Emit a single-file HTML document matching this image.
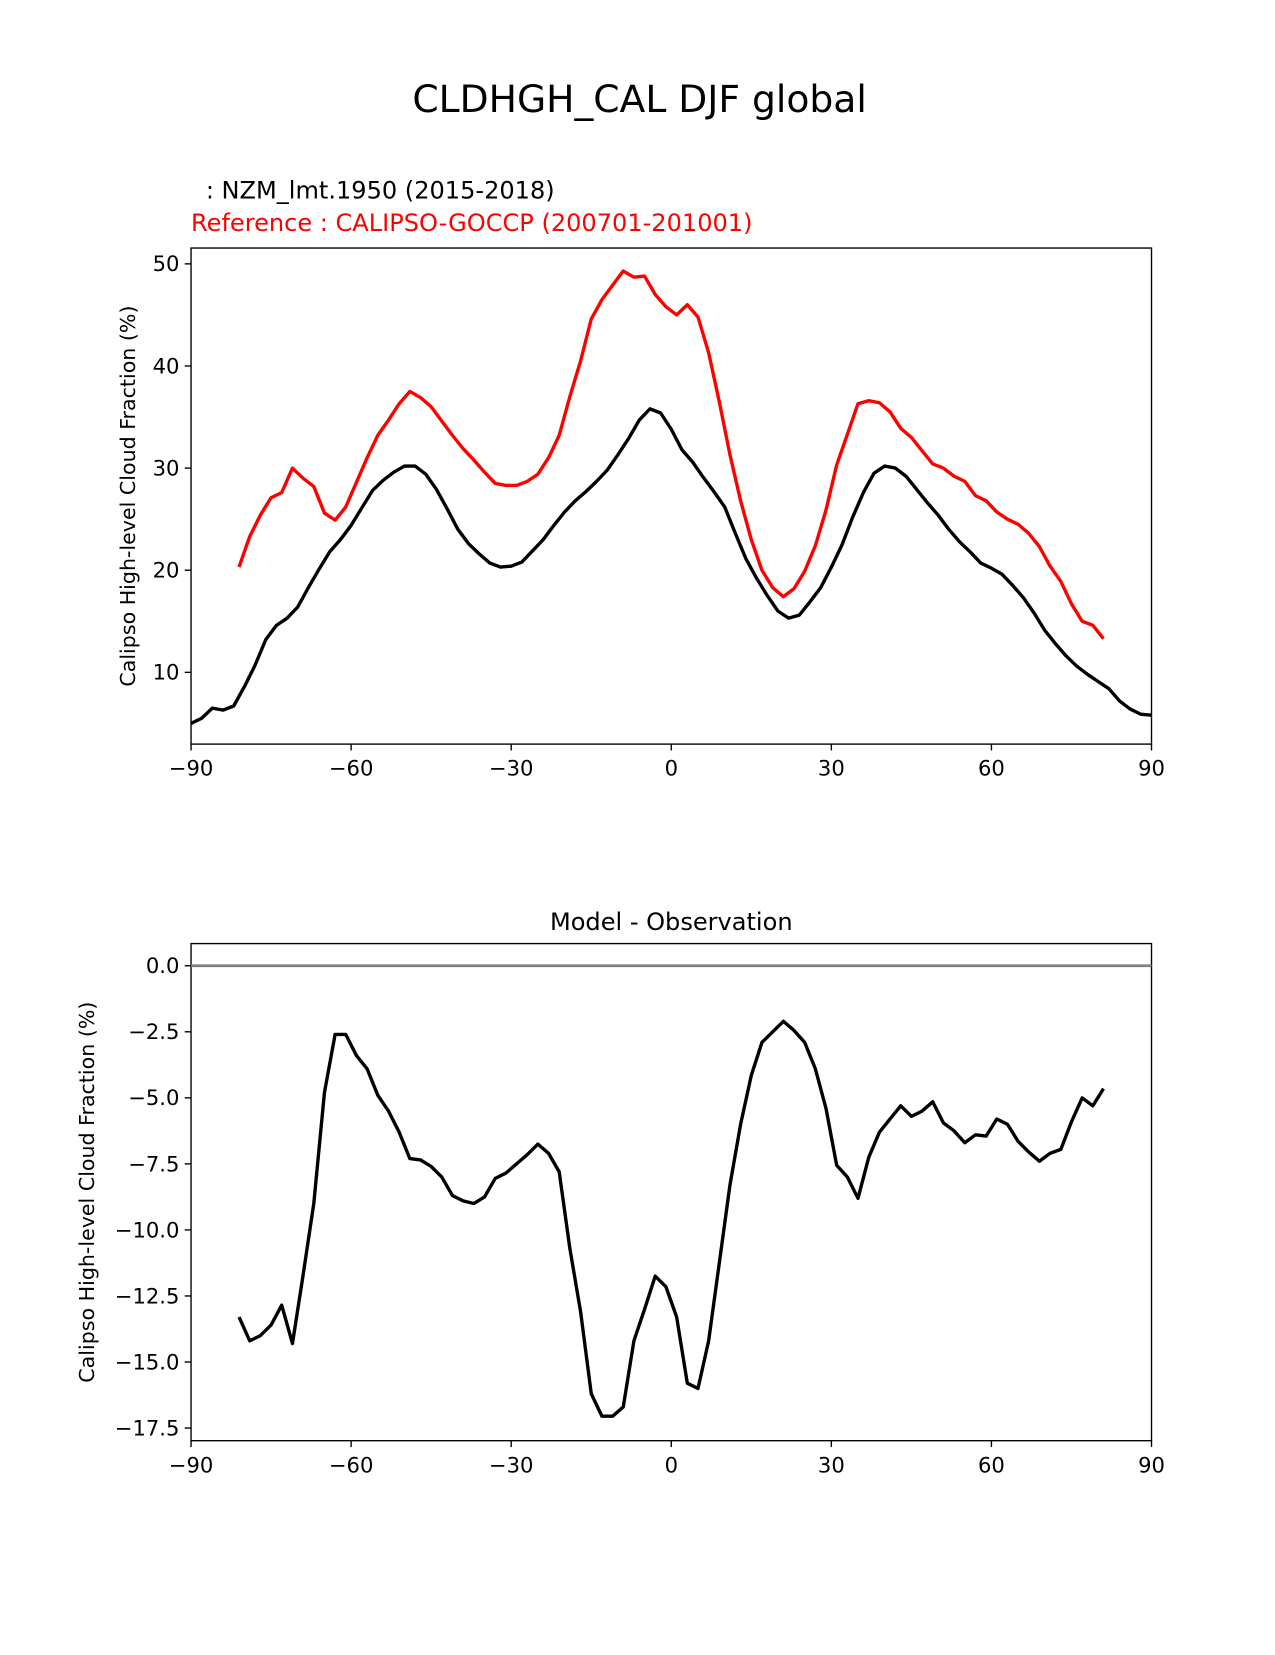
<!DOCTYPE html>
<html><head><meta charset="utf-8"><style>
body{margin:0;background:#fff;}
svg text{font-family:"DejaVu Sans","Liberation Sans",sans-serif;}
</style></head><body>
<svg id="fig" width="1275" height="1650" viewBox="0 0 1208 1563.3" preserveAspectRatio="none" xmlns="http://www.w3.org/2000/svg">
<rect width="1208" height="1564" fill="#fff"/>
<text x="606" y="106" font-size="35.7" text-anchor="middle">CLDHGH_CAL DJF global</text>
<text x="195" y="188" font-size="22.8">: NZM_lmt.1950 (2015-2018)</text>
<text x="181" y="219" font-size="22.8" fill="#ff0000">Reference : CALIPSO-GOCCP (200701-201001)</text>
<text x="636" y="881" font-size="22.8" text-anchor="middle">Model - Observation</text>
<g id="top"></g>
<g id="bot"></g>
</svg>
<script>
const refLat = [-81,-79,-77,-75,-73,-71,-69,-67,-65,-63,-61,-59,-57,-55,-53,-51,-49,-47,-45,-43,-41,-39,-37,-35,-33,-31,-29,-27,-25,-23,-21,-19,-17,-15,-13,-11,-9,-7,-5,-3,-1,1,3,5,7,9,11,13,15,17,19,21,23,25,27,29,31,33,35,37,39,41,43,45,47,49,51,53,55,57,59,61,63,65,67,69,71,73,75,77,79,81];
const refVals = [20.3,23.3,25.4,27.1,27.6,30.0,29.0,28.2,25.6,24.9,26.2,28.6,31.0,33.2,34.7,36.3,37.5,36.9,36.0,34.6,33.2,31.9,30.8,29.6,28.5,28.3,28.3,28.7,29.4,31.0,33.2,37.0,40.5,44.6,46.5,47.9,49.3,48.7,48.8,47.0,45.8,45.0,46.0,44.8,41.3,36.5,31.3,26.8,23.0,20.0,18.3,17.4,18.2,19.9,22.4,25.9,30.3,33.3,36.3,36.6,36.4,35.5,33.9,33.0,31.7,30.4,30.0,29.2,28.7,27.3,26.8,25.7,25.0,24.5,23.6,22.3,20.4,18.9,16.7,15.0,14.6,13.3];
const modelLat = [-90,-88,-86,-84,-82,-80,-78,-76,-74,-72,-70,-68,-66,-64,-62,-60,-58,-56,-54,-52,-50,-48,-46,-44,-42,-40,-38,-36,-34,-32,-30,-28,-26,-24,-22,-20,-18,-16,-14,-12,-10,-8,-6,-4,-2,0,2,4,6,8,10,12,14,16,18,20,22,24,26,28,30,32,34,36,38,40,42,44,46,48,50,52,54,56,58,60,62,64,66,68,70,72,74,76,78,80,82,84,86,88,90];
const modelVals = [5.0,5.5,6.5,6.3,6.7,8.6,10.7,13.2,14.6,15.3,16.4,18.3,20.1,21.8,23.0,24.4,26.1,27.8,28.8,29.6,30.2,30.2,29.4,27.9,26.0,24.0,22.6,21.6,20.7,20.3,20.4,20.8,21.9,23.0,24.4,25.7,26.8,27.7,28.7,29.8,31.3,32.9,34.7,35.8,35.4,33.8,31.8,30.6,29.1,27.7,26.2,23.6,21.1,19.2,17.5,16.0,15.3,15.6,16.9,18.3,20.3,22.5,25.2,27.6,29.5,30.2,30.0,29.2,27.9,26.6,25.4,24.0,22.8,21.8,20.7,20.2,19.6,18.5,17.3,15.8,14.1,12.8,11.6,10.6,9.8,9.1,8.4,7.2,6.4,5.9,5.8];
const diffVals = [-13.3,-14.2,-14.0,-13.6,-12.85,-14.3,-11.7,-9.0,-4.8,-2.6,-2.6,-3.4,-3.9,-4.9,-5.5,-6.3,-7.3,-7.35,-7.6,-8.0,-8.7,-8.9,-9.0,-8.75,-8.05,-7.85,-7.5,-7.15,-6.75,-7.1,-7.8,-10.7,-13.1,-16.2,-17.05,-17.05,-16.7,-14.2,-13.0,-11.75,-12.15,-13.3,-15.8,-16.0,-14.2,-11.25,-8.3,-6.0,-4.15,-2.9,-2.5,-2.1,-2.45,-2.9,-3.9,-5.4,-7.55,-8.0,-8.8,-7.25,-6.3,-5.8,-5.3,-5.7,-5.5,-5.15,-5.95,-6.25,-6.7,-6.4,-6.45,-5.8,-6.0,-6.65,-7.05,-7.4,-7.1,-6.95,-5.9,-5.0,-5.3,-4.65];
const xTicks = [-90,-60,-30,0,30,60,90];
const topYTicks = [10,20,30,40,50];
const botYTicks = [0,-2.5,-5,-7.5,-10,-12.5,-15,-17.5];

const NS="http://www.w3.org/2000/svg";
function mk(parent,tag,attrs){const e=document.createElementNS(NS,tag);for(const k in attrs)e.setAttribute(k,attrs[k]);parent.appendChild(e);return e;}
const L=181,R=1091;
const xs=v=>L+(v+90)/180*(R-L);
const fmtMinus=s=>String(s).replace('-','\u2212');

function axes(g,top,bot,ys,yt,yfmt,ylabel,ylx){
  mk(g,'rect',{x:L,y:top,width:R-L,height:bot-top,fill:'none',stroke:'#000','stroke-width':1.3});
  xTicks.forEach(t=>{
    const x=xs(t);
    const tk=mk(g,'line',{x1:x,x2:x,y1:bot,y2:bot+6,stroke:'#000','stroke-width':1.3});
    
    
    const tx=mk(g,'text',{x:x,y:bot+30,'font-size':20,'text-anchor':'middle'});
    tx.textContent=fmtMinus(t);
    
    
  });
  yt.forEach(t=>{
    const y=ys(t);
    const tk=mk(g,'line',{x1:L-6,x2:L,y1:y,y2:y,stroke:'#000','stroke-width':1.3});
    
    
    const tx=mk(g,'text',{x:L-11,y:y+7,'font-size':20,'text-anchor':'end'});
    tx.textContent=fmtMinus(yfmt(t));
    
    
  });
  const cy=(top+bot)/2;
  const yl=mk(g,'text',{x:ylx,y:cy,'font-size':19.5,'text-anchor':'middle',transform:`rotate(-90 ${ylx} ${cy})`});
  yl.textContent=ylabel;
  
  
}
function line(g,lat,vals,ys,color,name){
  const d=lat.map((la,i)=>(i?'L':'M')+xs(la).toFixed(1)+','+ys(vals[i]).toFixed(1)).join('');
  const p=mk(g,'path',{d:d,fill:'none',stroke:color,'stroke-width':3.2,'stroke-linejoin':'round'});
  
  
}
const gt=document.getElementById('top');
const yTop=v=>733.75-v*9.675;
axes(gt,235,705,yTop,topYTicks,t=>t,'Calipso High-level Cloud Fraction (%)',128);
line(gt,refLat,refVals,yTop,'#ff0000','reference-line');
line(gt,modelLat,modelVals,yTop,'#000','model-line');
const gb=document.getElementById('bot');
const yBot=v=>915-v*25.03;
axes(gb,894,1365,yBot,botYTicks,t=>t.toFixed(1),'Calipso High-level Cloud Fraction (%)',89);
const zl=mk(gb,'line',{x1:L,x2:R,y1:yBot(0),y2:yBot(0),stroke:'#808080','stroke-width':2.5});


line(gb,refLat,diffVals,yBot,'#000','difference-line');
</script>
</body></html>
